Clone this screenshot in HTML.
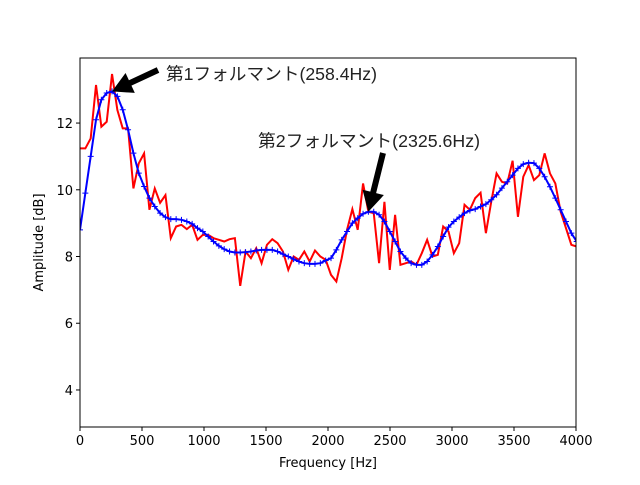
<!DOCTYPE html>
<html><head><meta charset="utf-8"><style>
body{margin:0;background:#fff}
svg text{font-family:"DejaVu Sans","Liberation Sans",sans-serif}
</style></head><body>
<svg id="chart" width="640" height="480" xmlns="http://www.w3.org/2000/svg">
<rect width="640" height="480" fill="#fff"/>
<g id="plot"></g>
</svg>
<script>
const freqStep = 43.07;
const redValues = [11.24,11.24,11.54,13.14,11.89,12.04,13.47,12.39,11.84,11.84,10.04,10.79,11.09,9.40,10.04,9.61,9.84,8.55,8.90,8.95,8.82,8.95,8.50,8.65,8.65,8.55,8.50,8.45,8.52,8.55,7.12,8.15,7.95,8.25,7.80,8.35,8.52,8.40,8.15,7.60,8.00,7.90,8.15,7.85,8.18,8.00,7.90,7.45,7.25,7.95,8.80,9.42,8.80,10.19,9.34,9.30,7.80,9.64,7.60,9.25,7.75,7.80,7.85,7.75,8.10,8.50,8.00,8.05,8.90,8.75,8.10,8.40,9.55,9.40,9.75,9.91,8.70,9.64,10.49,10.24,10.19,10.87,9.19,10.39,10.74,10.29,10.44,11.09,10.49,10.19,9.34,8.85,8.35,8.30];
const blueValues = [8.80,9.90,11.00,12.10,12.70,12.90,12.95,12.80,12.40,11.80,11.10,10.50,10.10,9.75,9.50,9.30,9.18,9.12,9.12,9.10,9.05,8.98,8.85,8.75,8.60,8.45,8.32,8.22,8.15,8.12,8.12,8.13,8.15,8.18,8.20,8.20,8.20,8.15,8.07,8.00,7.92,7.85,7.80,7.78,7.78,7.80,7.88,7.95,8.20,8.50,8.75,9.00,9.15,9.28,9.34,9.34,9.25,9.05,8.75,8.45,8.15,7.95,7.80,7.75,7.75,7.85,8.05,8.30,8.60,8.88,9.05,9.18,9.30,9.38,9.42,9.50,9.57,9.70,9.85,10.05,10.24,10.44,10.64,10.77,10.81,10.80,10.64,10.39,10.09,9.75,9.40,9.05,8.70,8.45];
const xTicks = [0,500,1000,1500,2000,2500,3000,3500,4000];
const yTicks = [4,6,8,10,12];
const annotations = [
 {label:"第1フォルマント(258.4Hz)", f:258.4, v:12.95, tx:166, ty:80, w:211, ax:158, ay:70},
 {label:"第2フォルマント(2325.6Hz)", f:2325.6, v:9.34, tx:258, ty:147, w:222, ax:383, ay:153}
];
const L=80,R=576,T=58,B=427, xMin=0,xMax=4000,yMin=2.89,yMax=13.95;
const X=f=>L+(f-xMin)/(xMax-xMin)*(R-L);
const Y=v=>B-(v-yMin)/(yMax-yMin)*(B-T);
const NS="http://www.w3.org/2000/svg";
const g=document.getElementById('plot');
function mk(tag,attrs,parent){const e=document.createElementNS(NS,tag);for(const k in attrs)e.setAttribute(k,attrs[k]);(parent||g).appendChild(e);return e;}
const defs=mk('defs',{});const cp=mk('clipPath',{id:'clip'},defs);mk('rect',{x:L,y:T,width:R-L,height:B-T},cp);
let d=redValues.map((v,i)=>(i?'L':'M')+X(i*freqStep).toFixed(2)+','+Y(v).toFixed(2)).join('');
const red=mk('path',{d:d,fill:'none',stroke:'#ff0000','stroke-width':2,'clip-path':'url(#clip)'});


d=blueValues.map((v,i)=>(i?'L':'M')+X(i*freqStep).toFixed(2)+','+Y(v).toFixed(2)).join('');
const blue=mk('path',{d:d,fill:'none',stroke:'#0000ff','stroke-width':2,'clip-path':'url(#clip)'});


const mg=mk('g',{stroke:'#0000ff','stroke-width':1,'clip-path':'url(#clip)'});


blueValues.forEach((v,i)=>{const x=X(i*freqStep),y=Y(v);mk('path',{d:`M${x-3},${y}h6M${x},${y-3}v6`},mg);});
const fr=mk('rect',{x:L,y:T,width:R-L,height:B-T,fill:'none',stroke:'#000','stroke-width':1});


xTicks.forEach(t=>{const x=X(t);mk('line',{x1:x,x2:x,y1:B,y2:B+4,stroke:'#000'});
 const tx=mk('text',{x:x,y:B+18,'font-size':13,'text-anchor':'middle'});tx.textContent=t;
 
 });
yTicks.forEach(t=>{const y=Y(t);mk('line',{x1:L-4,x2:L,y1:y,y2:y,stroke:'#000'});
 const tx=mk('text',{x:L-7,y:y+5,'font-size':13,'text-anchor':'end'});tx.textContent=t;
 
 });
const xl=mk('text',{x:(L+R)/2,y:467,'font-size':13,'text-anchor':'middle'});xl.textContent='Frequency [Hz]';


const yl=mk('text',{x:0,y:0,'font-size':13,'text-anchor':'middle',transform:`translate(43,${(T+B)/2}) rotate(-90)`});yl.textContent='Amplitude [dB]';


annotations.forEach(a=>{
 const tx=mk('text',{x:a.tx,y:a.ty,'font-size':17.5,fill:'#222',textLength:a.w,lengthAdjust:'spacingAndGlyphs'});tx.textContent=a.label;
 tx.setAttribute('style','font-family:"Liberation Sans","Noto Sans CJK JP",sans-serif');
 
 
 const px=X(a.f),py=Y(a.v);const dx=px-a.ax,dy=py-a.ay,len=Math.hypot(dx,dy),ux=dx/len,uy=dy/len,nx=-uy,ny=ux;
 const hl=20,hw=11,sw=3;const bx=px-ux*hl,by=py-uy*hl;
 const pts=[[a.ax+nx*sw,a.ay+ny*sw],[bx+nx*sw,by+ny*sw],[bx+nx*hw,by+ny*hw],[px,py],[bx-nx*hw,by-ny*hw],[bx-nx*sw,by-ny*sw],[a.ax-nx*sw,a.ay-ny*sw]];
 const ar=mk('polygon',{points:pts.map(p=>p.join(',')).join(' '),fill:'#000'});
 
 
});
</script>
</body></html>
